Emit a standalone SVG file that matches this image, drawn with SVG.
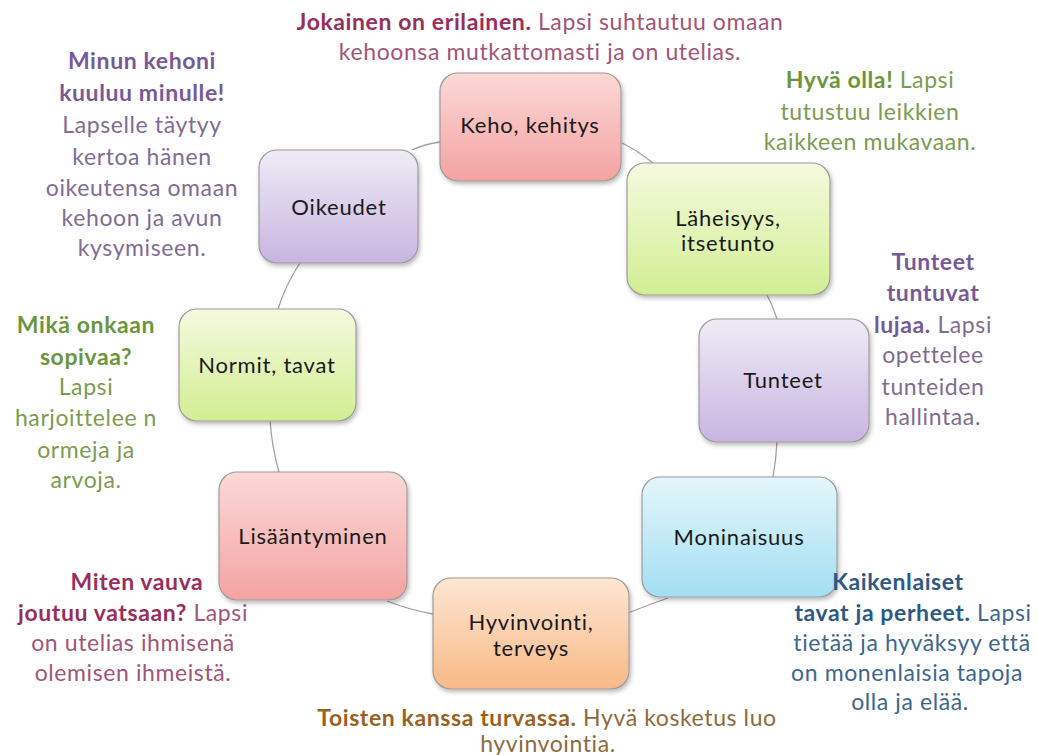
<svg xmlns="http://www.w3.org/2000/svg" width="1038" height="755" viewBox="0 0 1038 755">
<defs>
<linearGradient id="gRed" x1="0" y1="0" x2="0" y2="1"><stop offset="0" stop-color="#fbd9d8"/><stop offset="1" stop-color="#f4a3a2"/></linearGradient>
<linearGradient id="gGreen" x1="0" y1="0" x2="0" y2="1"><stop offset="0" stop-color="#f4fadf"/><stop offset="1" stop-color="#d3ee93"/></linearGradient>
<linearGradient id="gPurple" x1="0" y1="0" x2="0" y2="1"><stop offset="0" stop-color="#efebf6"/><stop offset="1" stop-color="#c8b5e1"/></linearGradient>
<linearGradient id="gBlue" x1="0" y1="0" x2="0" y2="1"><stop offset="0" stop-color="#e4f6fb"/><stop offset="1" stop-color="#a3def3"/></linearGradient>
<linearGradient id="gOrange" x1="0" y1="0" x2="0" y2="1"><stop offset="0" stop-color="#fde6d3"/><stop offset="1" stop-color="#f9b986"/></linearGradient>
<filter id="sh" x="-10%" y="-10%" width="125%" height="130%"><feDropShadow dx="1.5" dy="2.5" stdDeviation="2" flood-color="#000" flood-opacity="0.28"/></filter>
<style>
.box{stroke:#9d9a9a;stroke-width:1.2;filter:url(#sh)}
.nt{font-family:Lato,"Open Sans","Liberation Sans",sans-serif;font-size:22px;letter-spacing:0.8px;fill:#1a1a1a;text-anchor:middle}
.an{font-family:Lato,"Open Sans","Liberation Sans",sans-serif;font-size:23px;letter-spacing:0.6px;text-anchor:middle}
.b{font-weight:bold}
.pk{fill:#a45477}.pk .b{fill:#9a2e5a}
.pu{fill:#7f6c95}.pu .b{fill:#76599a}
.gr{fill:#7c9b50}.gr .b{fill:#6a963b}
.bl{fill:#3d6790}.bl .b{fill:#2d5886}
.or{fill:#8e6a3d}.or .b{fill:#9a6220}
.con{fill:none;stroke:#a89e9c;stroke-width:1.3}
</style>
</defs>
<rect width="1038" height="755" fill="#ffffff"/>

<g id="connectors">
<path class="con" d="M440,142 Q425,144 412,150"/>
<path class="con" d="M622,143 Q638,151 653,163"/>
<path class="con" d="M767,295 Q773,306 777,319"/>
<path class="con" d="M777,442 Q776,460 773,477"/>
<path class="con" d="M628,613 Q648,605 668,598"/>
<path class="con" d="M387,601 Q410,610 433,614"/>
<path class="con" d="M270,420 Q272,448 279,472"/>
<path class="con" d="M300,263 Q286,284 278,309"/>
</g>

<g id="node-keho">
<rect class="box" x="440" y="73" width="181" height="108" rx="18" fill="url(#gRed)"/>
<text class="nt" x="530" y="133">Keho, kehitys</text>
</g>
<g id="node-laheisyys">
<rect class="box" x="627" y="163" width="203" height="132" rx="18" fill="url(#gGreen)"/>
<text class="nt" x="728" y="226">Läheisyys,</text>
<text class="nt" x="728" y="251">itsetunto</text>
</g>
<g id="node-tunteet">
<rect class="box" x="699" y="319" width="170" height="123" rx="18" fill="url(#gPurple)"/>
<text class="nt" x="783" y="388">Tunteet</text>
</g>
<g id="node-moninaisuus">
<rect class="box" x="642" y="477" width="195" height="120" rx="18" fill="url(#gBlue)"/>
<text class="nt" x="739" y="545">Moninaisuus</text>
</g>
<g id="node-hyvinvointi">
<rect class="box" x="433" y="578" width="196" height="111" rx="18" fill="url(#gOrange)"/>
<text class="nt" x="531" y="630">Hyvinvointi,</text>
<text class="nt" x="531" y="656">terveys</text>
</g>
<g id="node-lisaantyminen">
<rect class="box" x="219" y="472" width="188" height="128" rx="18" fill="url(#gRed)"/>
<text class="nt" x="313" y="544">Lisääntyminen</text>
</g>
<g id="node-normit">
<rect class="box" x="179" y="309" width="177" height="112" rx="18" fill="url(#gGreen)"/>
<text class="nt" x="267" y="373">Normit, tavat</text>
</g>
<g id="node-oikeudet">
<rect class="box" x="259" y="150" width="159" height="113" rx="18" fill="url(#gPurple)"/>
<text class="nt" x="339" y="215">Oikeudet</text>
</g>

<g id="annotations">
<g class="an pk">
<text x="540" y="30"><tspan class="b">Jokainen on erilainen.</tspan> Lapsi suhtautuu omaan</text>
<text x="540" y="60">kehoonsa mutkattomasti ja on utelias.</text>
</g>
<g class="an pu">
<text x="142" y="69" class="b">Minun kehoni</text>
<text x="142" y="101" class="b">kuuluu minulle!</text>
<text x="142" y="133">Lapselle täytyy</text>
<text x="142" y="165">kertoa hänen</text>
<text x="142" y="196">oikeutensa omaan</text>
<text x="142" y="226">kehoon ja avun</text>
<text x="142" y="256">kysymiseen.</text>
</g>
<g class="an gr">
<text x="870" y="88"><tspan class="b">Hyvä olla!</tspan> Lapsi</text>
<text x="870" y="120">tutustuu leikkien</text>
<text x="870" y="150">kaikkeen mukavaan.</text>
</g>
<g class="an pu">
<text x="933" y="270" class="b">Tunteet</text>
<text x="933" y="301" class="b">tuntuvat</text>
<text x="933" y="333"><tspan class="b">lujaa.</tspan> Lapsi</text>
<text x="933" y="363">opettelee</text>
<text x="933" y="395">tunteiden</text>
<text x="933" y="425">hallintaa.</text>
</g>
<g class="an gr">
<text x="86" y="333" class="b">Mikä onkaan</text>
<text x="86" y="365" class="b">sopivaa?</text>
<text x="86" y="395">Lapsi</text>
<text x="86" y="426">harjoittelee  n</text>
<text x="86" y="458">ormeja ja</text>
<text x="86" y="488">arvoja.</text>
</g>
<g class="an pk">
<text x="137" y="590" class="b">Miten vauva</text>
<text x="133" y="621"><tspan class="b">joutuu vatsaan?</tspan> Lapsi</text>
<text x="133" y="651">on utelias ihmisenä</text>
<text x="133" y="681">olemisen ihmeistä.</text>
</g>
<g class="an bl">
<text x="898" y="590" class="b">Kaikenlaiset</text>
<text x="913" y="621"><tspan class="b">tavat ja perheet.</tspan> Lapsi</text>
<text x="912" y="651">tietää ja hyväksyy että</text>
<text x="907" y="681">on monenlaisia tapoja</text>
<text x="910" y="710">olla ja elää.</text>
</g>
<g class="an or">
<text x="547" y="726"><tspan class="b">Toisten kanssa turvassa.</tspan> Hyvä kosketus luo</text>
<text x="548" y="752">hyvinvointia.</text>
</g>
</g>
</svg>
